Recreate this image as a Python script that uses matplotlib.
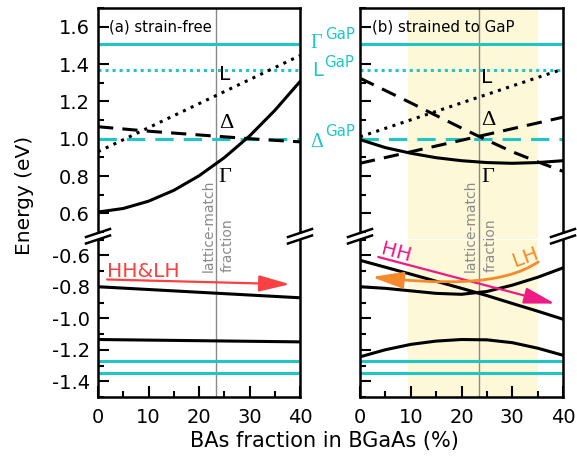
import matplotlib
matplotlib.use('Agg')
import matplotlib.pyplot as plt
import matplotlib.transforms as mtransforms
from matplotlib.lines import Line2D
from matplotlib.patches import Rectangle, FancyArrowPatch
from matplotlib.path import Path
from matplotlib.ticker import MultipleLocator

plt.rcParams['font.family'] = 'DejaVu Sans'
plt.rcParams['axes.unicode_minus'] = False

# BAs fraction (%) sampled along the curves
x = [0, 5, 10, 15, 20, 25, 30, 35, 40]
x_ends = [0, 40]
lattice_match = 23.4
shade_range = [9.5, 35.1]

# GaP reference band edges (eV)
gap_gamma = 1.507
gap_L = 1.369
gap_delta = 1.0
gap_vb = [-1.27, -1.35]

# (a) strain-free
a_gamma = [0.607, 0.626, 0.665, 0.723, 0.801, 0.898, 1.014, 1.151, 1.306]
a_L = [0.93, 1.445]
a_delta = [1.064, 1.052, 1.04, 1.03, 1.02, 1.01, 1.0, 0.991, 0.983]
a_hhlh = [-0.80, -0.87]
a_so = [-1.135, -1.15]

# (b) strained to GaP
b_gamma = [0.995, 0.952, 0.922, 0.898, 0.882, 0.872, 0.868, 0.872, 0.882]
b_L = [1.01, 1.373]
b_delta1 = [1.324, 1.258, 1.192, 1.124, 1.057, 0.992, 0.93, 0.876, 0.825]
b_delta2 = [0.868, 1.115]
b_hh = [-0.632, -0.676, -0.72, -0.765, -0.81, -0.856, -0.906, -0.955, -1.006]
b_lh = [-0.80, -0.81, -0.826, -0.842, -0.848, -0.83, -0.79, -0.74, -0.68]
b_so = [-1.245, -1.2, -1.166, -1.145, -1.135, -1.137, -1.155, -1.19, -1.235]

# arrow annotations in data units (start ... tip)
arrow_a = [(1.8, -0.754), (38.0, -0.784)]
arrow_hh = [(3.6, -0.611), (38.4, -0.907)]
arrow_lh = [(35.1, -0.642), (28.0, -0.80), (15.0, -0.78), (2.3, -0.738)]

cyan = '#1fc6c6'
red = '#fa4040'
pink = '#ee1a86'
orange = '#f5892b'
grey = '#8a8a8a'
yellow = '#fdf9d8'

W, H = 577, 461
fig = plt.figure(figsize=(W / 100, H / 100), dpi=100)


def fx(px):
    return px / W


def fy(py):
    return 1 - py / H


lefts = [98, 360]
rights = [300, 563]
up_top, up_bot = 8, 232
lo_top, lo_bot = 239.5, 397

axes = []
for l, r in zip(lefts, rights):
    axu = fig.add_axes([fx(l), fy(up_bot), fx(r - l), (up_bot - up_top) / H])
    axl = fig.add_axes([fx(l), fy(lo_bot), fx(r - l), (lo_bot - lo_top) / H])
    axes.append((axu, axl))

for i, (axu, axl) in enumerate(axes):
    axu.set_ylim(0.5, 1.7)
    axl.set_ylim(-1.5, -0.5)
    for ax in (axu, axl):
        ax.set_xlim(0, 40)
        ax.xaxis.set_major_locator(MultipleLocator(10))
        ax.xaxis.set_minor_locator(MultipleLocator(5))
        ax.yaxis.set_major_locator(MultipleLocator(0.2))
        ax.yaxis.set_minor_locator(MultipleLocator(0.1))
        ax.tick_params(which='both', direction='in', top=False, right=False,
                       labelsize=14, width=1.5)
        ax.tick_params(which='major', length=8)
        ax.tick_params(which='minor', length=4.5)
        ax.tick_params(axis='y', pad=6)
        ax.tick_params(axis='x', pad=8)
        for s in ax.spines.values():
            s.set_linewidth(1.8)
        ax.axvline(lattice_match, color=grey, lw=1.0, zorder=1)
        if i == 1:
            ax.axvspan(shade_range[0], shade_range[1], color=yellow, lw=0, zorder=0)
    axu.spines['bottom'].set_visible(False)
    axu.tick_params(axis='x', which='both', bottom=False, labelbottom=False)
    axl.spines['top'].set_visible(False)
    axu.yaxis.set_major_formatter(plt.FormatStrFormatter('%.1f'))
    axl.yaxis.set_major_formatter(plt.FormatStrFormatter('%.1f'))
    if i == 1:
        axu.set_yticklabels([])
        axl.set_yticklabels([])

    # fill the break gap: shading and lattice-match line continue through it
    tr = mtransforms.blended_transform_factory(axu.transData, fig.transFigure)
    if i == 1:
        fig.add_artist(Rectangle((shade_range[0], fy(lo_top)),
                                 shade_range[1] - shade_range[0],
                                 (lo_top - up_bot) / H, transform=tr,
                                 facecolor=yellow, lw=0, zorder=0))
    fig.add_artist(Line2D([lattice_match] * 2, [fy(lo_top), fy(up_bot)],
                          transform=tr, color=grey, lw=1.0))

    # GaP references
    axu.axhline(gap_gamma, color=cyan, lw=2.2, zorder=2)
    axu.axhline(gap_L, color=cyan, lw=2.2, ls=(0, (1, 1.3)), zorder=2)
    axu.axhline(gap_delta, color=cyan, lw=2.2, ls=(0, (6, 3.3)), zorder=2)
    for v in gap_vb:
        axl.axhline(v, color=cyan, lw=2.2, zorder=2)

blk = dict(color='black', lw=2.2, zorder=3)
dot = (0, (1, 1.8))
dash = (0, (5, 3))

(au, al), (bu, bl) = axes

au.plot(x, a_gamma, **blk)
au.plot(x_ends, a_L, ls=dot, **blk)
au.plot(x, a_delta, ls=dash, **blk)
al.plot(x_ends, a_hhlh, **blk)
al.plot(x_ends, a_so, **blk)

bu.plot(x, b_gamma, **blk)
bu.plot(x_ends, b_L, ls=dot, **blk)
bu.plot(x, b_delta1, ls=dash, **blk)
bu.plot(x_ends, b_delta2, ls=dash, **blk)
bl.plot(x, b_hh, **blk)
bl.plot(x, b_lh, **blk)
bl.plot(x, b_so, **blk)

# panel titles
au.text(2.2, 1.6, '(a) strain-free', fontsize=10.7, va='center', ha='left')
bu.text(2.4, 1.6, '(b) strained to GaP', fontsize=10.8, va='center', ha='left')

# band labels
for ax, ys in ((au, (1.315, 1.057, 0.767)), (bu, (1.30, 1.073, 0.767))):
    ax.text(23.9, ys[0], 'L', fontsize=14.5, va='baseline', ha='left', zorder=5)
    ax.text(23.9, ys[1], '\u0394', family='Liberation Serif', fontsize=16,
            va='baseline', ha='left', zorder=5)
    ax.text(23.9, ys[2], '\u0393', family='Liberation Serif', fontsize=16,
            va='baseline', ha='left', zorder=5)

# GaP labels between the panels
au.text(42.0, 1.487, '\u0393', family='Liberation Serif', fontsize=14.5, color=cyan,
        va='baseline', clip_on=False)
au.text(45.0, 1.535, 'GaP', fontsize=10.8, color=cyan, va='baseline', clip_on=False)
au.text(42.4, 1.337, 'L', fontsize=14, color=cyan, va='baseline', clip_on=False)
au.text(44.8, 1.385, 'GaP', fontsize=10.8, color=cyan, va='baseline', clip_on=False)
au.text(42.0, 0.955, '\u0394', family='Liberation Serif', fontsize=14.5, color=cyan,
        va='baseline', clip_on=False)
au.text(45.0, 1.014, 'GaP', fontsize=10.8, color=cyan, va='baseline', clip_on=False)

# lattice-match annotation
for ax in (al, bl):
    ax.text(22.7, -0.708, 'lattice-match', rotation=90, rotation_mode='anchor',
            ha='left', va='baseline', fontsize=10, color=grey, clip_on=False, zorder=4)
    ax.text(26.5, -0.708, 'fraction', rotation=90, rotation_mode='anchor',
            ha='left', va='baseline', fontsize=10, color=grey, clip_on=False, zorder=4)

# arrows
head = '-|>,head_length=0.95,head_width=0.25'
al.annotate('', xy=arrow_a[1], xytext=arrow_a[0],
            arrowprops=dict(arrowstyle=head, mutation_scale=20, color=red, lw=1.6,
                            shrinkA=0, shrinkB=0))
al.text(1.8, -0.740, 'HH&LH', fontsize=14.5, color=red, va='baseline', ha='left')

bl.annotate('', xy=arrow_hh[1], xytext=arrow_hh[0],
            arrowprops=dict(arrowstyle=head, mutation_scale=20, color=pink, lw=1.6,
                            shrinkA=0, shrinkB=0), zorder=6)
bl.text(3.9, -0.594, 'HH', fontsize=14.5, color=pink, rotation=-15,
        rotation_mode='anchor', va='baseline', ha='left')

lh_path = Path(arrow_lh, [Path.MOVETO, Path.CURVE4, Path.CURVE4, Path.CURVE4])
bl.add_patch(FancyArrowPatch(path=lh_path, arrowstyle=head, mutation_scale=20,
                             color=orange, lw=2.0, transform=bl.transData, zorder=6))
bl.text(30.5, -0.674, 'LH', fontsize=14.5, color=orange, rotation=20,
        rotation_mode='anchor', va='baseline', ha='left')

# axis break marks
for l, r in zip(lefts, rights):
    for xs in (l, r):
        for yc in (up_bot + 1, lo_top):
            fig.add_artist(Line2D([fx(xs - 12), fx(xs + 12)], [fy(yc + 4), fy(yc - 4)],
                                  color='black', lw=1.8, transform=fig.transFigure))

fig.text(fx(24), fy(195), 'Energy (eV)', rotation=90, fontsize=14.5,
         ha='center', va='center')
fig.text(fx(324.5), fy(441), 'BAs fraction in BGaAs (%)', fontsize=15,
         ha='center', va='center')

fig.savefig('out.png', dpi=100)
